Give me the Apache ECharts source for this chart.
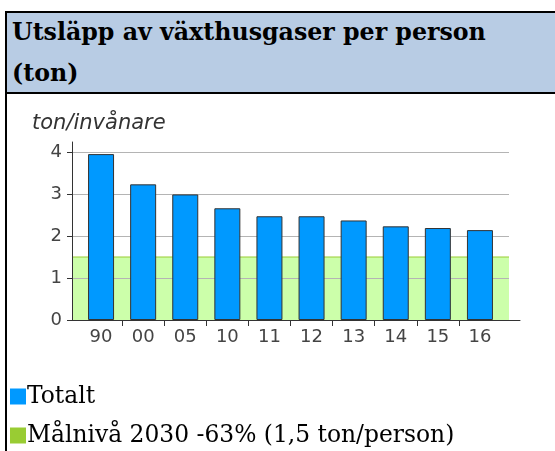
<!DOCTYPE html>
<html>
<head>
<meta charset="utf-8">
<script src="https://cdn.jsdelivr.net/npm/echarts@6/dist/echarts.min.js"></script>
<style>
  html, body { margin: 0; padding: 0; width: 555px; height: 451px; overflow: hidden; background: #fff; }
  #frame { position: absolute; left: 5px; top: 11px; width: 600px; height: 460px;
           border-left: 2px solid #000; border-top: 2px solid #000; }
  #head { height: 79px; background: #b8cce4; border-bottom: 2px solid #000;
          font-family: "DejaVu Serif", serif; font-weight: bold; font-size: 23.7px;
          line-height: 41px; padding-left: 5px; color: #000; }
  #head div { position: relative; top: -1px; }
  #chart { position: absolute; left: 0; top: 0; width: 555px; height: 451px; }
</style>
</head>
<body>
<div id="frame"><div id="head"><div>Utsläpp av växthusgaser per person<br>(ton)</div></div></div>
<div id="chart"></div>
<script>
// data
const categories = ['90', '00', '05', '10', '11', '12', '13', '14', '15', '16']
const totalt = [3.95, 3.23, 2.99, 2.66, 2.47, 2.47, 2.37, 2.23, 2.19, 2.14]
const malniva = 1.5 // target level 2030
const seriesNames = ['Totalt', 'Målnivå 2030 -63% (1,5 ton/person)']
const seriesColors = ['#0099ff', '#99cc33']

const axisFont = { fontFamily: 'DejaVu Sans', fontSize: 18, color: '#444' }
const hidden = { show: false }

// one legend per row, stacked like the html list below the chart
function legendRow(i, top) {
  return {
    left: 10,
    top: top,
    padding: 0,
    icon: 'rect',
    itemWidth: 16,
    itemHeight: 16,
    textStyle: { fontFamily: 'DejaVu Serif', fontSize: 23.4, color: '#000', padding: [0, 0, 0, -4] },
    data: [{ name: seriesNames[i], itemStyle: { color: seriesColors[i], borderWidth: 0 } }]
  }
}

const chart = echarts.init(document.getElementById('chart'))
chart.setOption({
  animation: false,
  title: {
    text: 'ton/invånare',
    left: 32,
    top: 113,
    padding: 0,
    textStyle: { fontFamily: 'DejaVu Sans', fontStyle: 'italic', fontWeight: 'normal', fontSize: 21, color: '#333' }
  },
  legend: [legendRow(0, 385), legendRow(1, 424)],
  grid: [
    // axis lines
    { left: 72, right: 35, top: 142, bottom: 131 },
    // y scale, grid lines, target band
    { left: 72, right: 46, top: 152, bottom: 131 },
    // categories and bars
    { left: 80, right: 54, top: 152, bottom: 131 }
  ],
  xAxis: [
    {
      gridIndex: 0, type: 'value', min: 0, max: 1, position: 'bottom',
      axisLine: { show: true, onZero: false, lineStyle: { color: '#333', width: 1 } },
      axisTick: hidden, axisLabel: hidden, splitLine: hidden
    },
    {
      gridIndex: 1, type: 'value', min: 0, max: 1, show: false
    },
    {
      gridIndex: 2, type: 'category', data: categories, position: 'bottom',
      axisLine: hidden, axisTick: hidden,
      axisLabel: Object.assign({ margin: 8, interval: 0 }, axisFont)
    },
    {
      gridIndex: 2, type: 'value', min: 0, max: categories.length, position: 'bottom',
      axisLine: hidden, axisLabel: hidden, splitLine: hidden,
      axisTick: {
        show: true, length: 6, lineStyle: { color: '#333' },
        customValues: categories.slice(1).map((c, i) => i + 1)
      }
    }
  ],
  yAxis: [
    {
      gridIndex: 0, type: 'value', min: 0, max: 1,
      axisLine: { show: true, onZero: false, lineStyle: { color: '#333', width: 1 } },
      axisTick: hidden, axisLabel: hidden, splitLine: hidden
    },
    {
      gridIndex: 1, type: 'value', min: 0, max: 4, interval: 1,
      axisLine: hidden,
      axisTick: { show: true, length: 5, lineStyle: { color: '#333' } },
      axisLabel: Object.assign({ margin: 10 }, axisFont),
      splitLine: { show: true, lineStyle: { color: '#b4b4b4', width: 1 } }
    },
    {
      gridIndex: 2, type: 'value', min: 0, max: 4, show: false
    }
  ],
  series: [
    {
      name: seriesNames[0],
      type: 'bar',
      xAxisIndex: 2,
      yAxisIndex: 2,
      barWidth: 26,
      itemStyle: { color: seriesColors[0], borderColor: '#333', borderWidth: 1 },
      data: totalt,
      z: 5
    },
    {
      name: seriesNames[1],
      type: 'line',
      xAxisIndex: 1,
      yAxisIndex: 1,
      symbol: 'none',
      itemStyle: { color: seriesColors[1] },
      lineStyle: { color: seriesColors[1], width: 1 },
      areaStyle: { color: '#ccffaa', opacity: 1 },
      data: [[0, malniva], [1, malniva]],
      z: -1
    }
  ]
})
</script>
</body>
</html>
